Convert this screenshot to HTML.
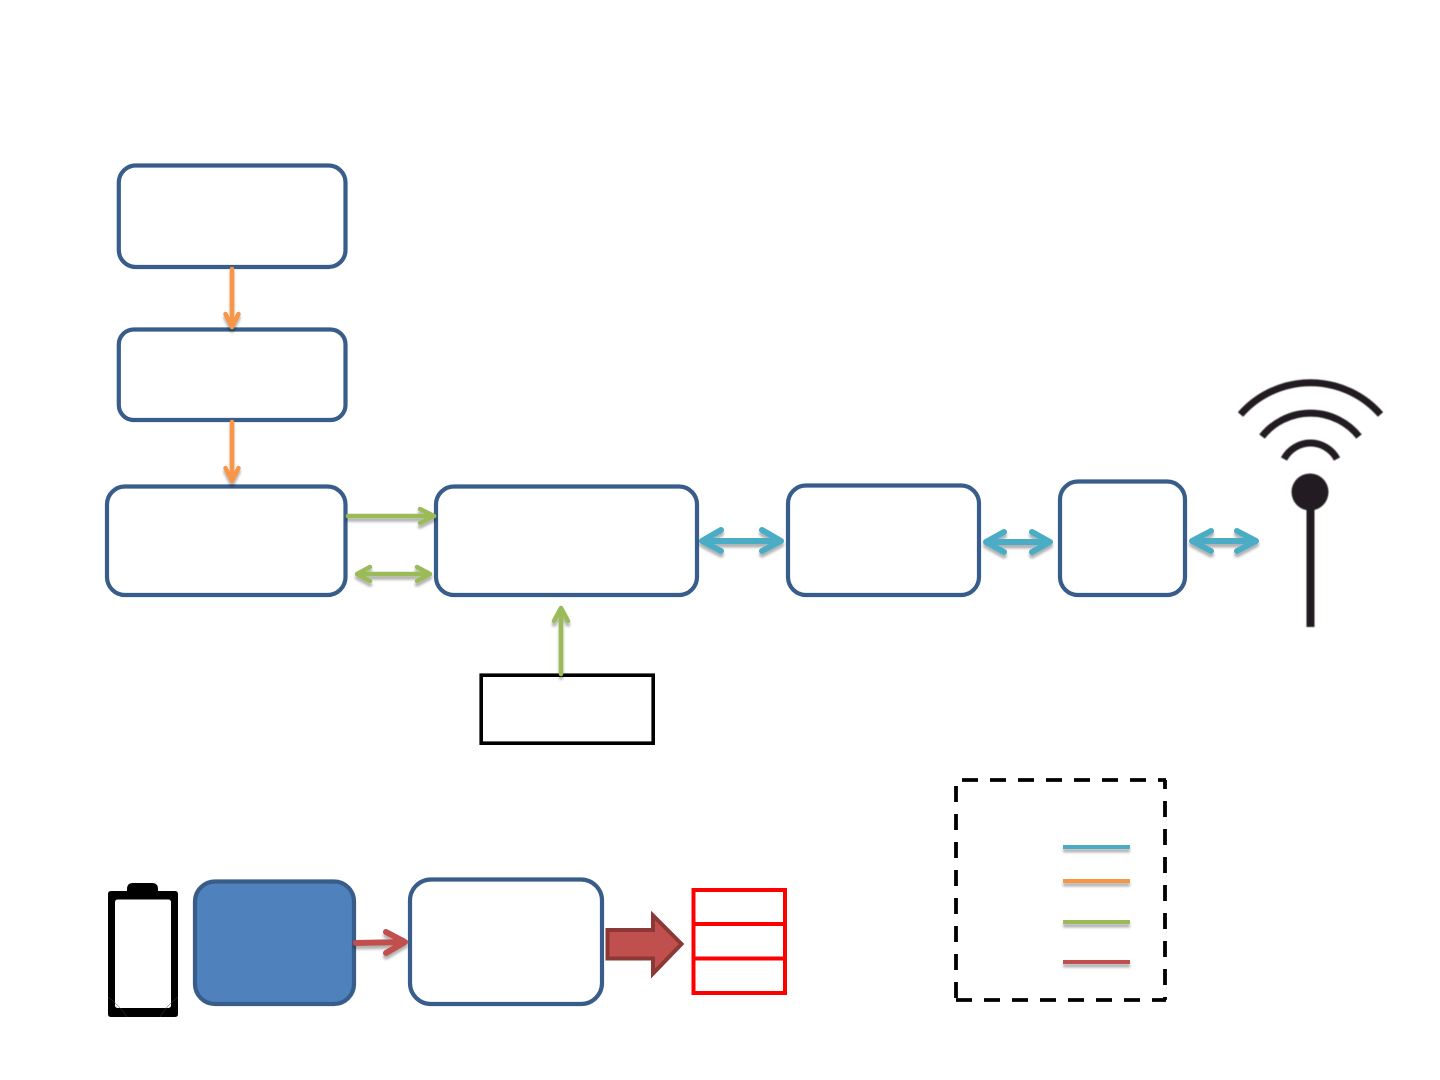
<!DOCTYPE html>
<html>
<head>
<meta charset="utf-8">
<title>Diagram</title>
<style>
html,body{margin:0;padding:0;background:#fff;width:1440px;height:1080px;overflow:hidden}
svg{display:block}
</style>
</head>
<body>
<svg width="1440" height="1080" viewBox="0 0 1440 1080" xmlns="http://www.w3.org/2000/svg">
<defs>
<filter id="s" x="-30%" y="-30%" width="160%" height="180%" filterUnits="objectBoundingBox">
<feDropShadow dx="0" dy="3.5" stdDeviation="1.4" flood-color="#000" flood-opacity="0.3"/>
</filter>
<filter id="sl" x="-10%" y="-300%" width="120%" height="800%" filterUnits="objectBoundingBox">
<feDropShadow dx="0" dy="3.5" stdDeviation="1.2" flood-color="#000" flood-opacity="0.3"/>
</filter>
<filter id="b" x="-5%" y="-5%" width="110%" height="110%">
<feGaussianBlur stdDeviation="0.45"/>
</filter>
</defs>

<!-- rounded boxes -->
<g fill="#fff" stroke="#385d8a" stroke-width="4.200">
<rect x="118.800" y="165.500" width="226.700" height="101.500" rx="17"/>
<rect x="118.800" y="329.500" width="226.700" height="90.500" rx="15"/>
<rect x="107" y="486.500" width="238.500" height="108.500" rx="18"/>
<rect x="436" y="486.500" width="261" height="108.500" rx="18"/>
<rect x="788" y="485.500" width="191" height="109.500" rx="18"/>
<rect x="1060" y="481.500" width="125" height="113.500" rx="18"/>
<rect x="410" y="879.500" width="192" height="124.500" rx="21"/>
<rect x="195" y="881.500" width="159" height="122.500" rx="20" fill="#4f81bd"/>
</g>

<!-- black box -->
<rect x="481.200" y="675.200" width="172" height="68" fill="#fff" stroke="#000" stroke-width="3.600"/>

<!-- orange arrows -->
<g fill="none" stroke="#f79646" stroke-width="4.500" stroke-linecap="round" stroke-linejoin="round">
<path filter="url(#s)" d="M232 269V327M225.500 314L232 327L238.500 314"/>
<path filter="url(#s)" d="M232 422V481M225.500 468L232 481L238.500 468"/>
</g>

<!-- green arrows -->
<g fill="none" stroke="#9bbb59" stroke-width="4.500" stroke-linecap="round" stroke-linejoin="round">
<path filter="url(#s)" d="M348 516H434M420 509L434 516L420 523"/>
<path filter="url(#s)" d="M357 574H430M370 567L357 574L370 581M417 567L430 574L417 581"/>
<path filter="url(#s)" d="M561 674V608M554 621L561 608L568 621"/>
</g>

<!-- blue arrows -->
<g fill="none" stroke="#4bacc6" stroke-width="6" stroke-linecap="round" stroke-linejoin="round">
<path filter="url(#s)" d="M702 541H781M721 530L702 541L721 551M762 530L781 541L762 551"/>
<path filter="url(#s)" d="M986 542H1050M1004 532L986 542L1004 552M1032 532L1050 542L1032 552"/>
<path filter="url(#s)" d="M1192 541H1256M1211 531L1192 541L1211 551M1237 531L1256 541L1237 551"/>
</g>

<!-- red arrow -->
<path filter="url(#s)" d="M356 943L405 942M386 932L405 942L386 953" fill="none" stroke="#c0504d" stroke-width="6" stroke-linecap="round" stroke-linejoin="round"/>

<!-- block arrow -->
<path d="M607.500 930H653V915.500L681.500 944L653 973.500V958.500H607.500Z" fill="#c0504d" stroke="#8c3836" stroke-width="4"/>

<!-- red table -->
<g fill="#fff" stroke="#ff0000" stroke-width="4">
<rect x="693.500" y="890" width="91.500" height="103"/>
<path d="M693.500 924H785M693.500 958.500H785" fill="none"/>
</g>

<!-- battery -->
<path d="M111 891H127V889Q127 883 133 883H152Q158 883 158 889V891H175Q178 891 178 894V1014Q178 1017 175 1017H111Q108 1017 108 1014V894Q108 891 111 891Z" fill="#000"/>
<rect x="115" y="899.500" width="56" height="108.500" rx="2.500" fill="#fff"/>
<path d="M108 997Q120 1006 127 1017M178 997Q166 1006 160 1017" fill="none" stroke="#444" stroke-width="0.500"/>

<!-- antenna -->
<g filter="url(#b)">
<g fill="none" stroke="#231f20" stroke-width="7">
<path d="M1240.500 414.500A93 93 0 0 1 1380.500 414.500"/>
<path d="M1262 436.500A62 62 0 0 1 1359 436.500"/>
<path d="M1284 459A30 30 0 0 1 1337 459"/>
<path d="M1310.500 500V627" stroke-width="8"/>
</g>
<circle cx="1310" cy="492" r="18.500" fill="#231f20"/>
</g>

<!-- dashed legend -->
<g fill="none" stroke="#000" stroke-width="3.800" stroke-dasharray="16 12">
<path d="M962 780H1166"/>
<path d="M956 1000H1166"/>
<path d="M956 786V1000"/>
<path d="M1165 780V1000" stroke-dashoffset="7"/>
</g>

<!-- legend lines -->
<g filter="url(#sl)">
<rect x="1063" y="845" width="67" height="4" fill="#4bacc6"/>
</g>
<g filter="url(#sl)">
<rect x="1063" y="879" width="67" height="4" fill="#f79646"/>
</g>
<g filter="url(#sl)">
<rect x="1063" y="920" width="67" height="4" fill="#9bbb59"/>
</g>
<g filter="url(#sl)">
<rect x="1063" y="960" width="67" height="4" fill="#c0504d"/>
</g>
</svg>
</body>
</html>
